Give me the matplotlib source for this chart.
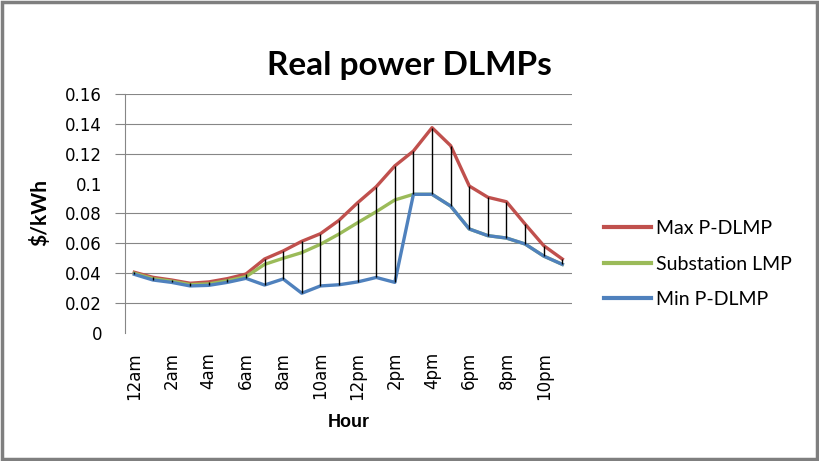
import numpy as np
import matplotlib
matplotlib.use("Agg")
import matplotlib.pyplot as plt
from matplotlib.patches import Rectangle

# values ($/kWh)
hours = ['12am', '1am', '2am', '3am', '4am', '5am', '6am', '7am', '8am', '9am', '10am', '11am',
         '12pm', '1pm', '2pm', '3pm', '4pm', '5pm', '6pm', '7pm', '8pm', '9pm', '10pm', '11pm']
max_dlmp = [0.0405, 0.0371, 0.0353, 0.0331, 0.0340, 0.0362, 0.0393, 0.0494, 0.0548, 0.0613,
            0.0664, 0.0754, 0.0872, 0.0980, 0.1120, 0.1220, 0.1377, 0.1256, 0.0985, 0.0909,
            0.0879, 0.0729, 0.0584, 0.0494]
sub_lmp = [0.0398, 0.0362, 0.0345, 0.0322, 0.0327, 0.0348, 0.0375, 0.0458, 0.0499, 0.0537,
           0.0593, 0.0662, 0.0738, 0.0812, 0.0891, 0.0929, 0.0929, 0.0850, 0.0696, 0.0651,
           0.0635, 0.0595, 0.0514, 0.0458]
min_dlmp = [0.0391, 0.0353, 0.0337, 0.0313, 0.0317, 0.0337, 0.0364, 0.0319, 0.0360, 0.0264,
            0.0313, 0.0321, 0.0340, 0.0370, 0.0337, 0.0929, 0.0929, 0.0850, 0.0696, 0.0651,
            0.0635, 0.0595, 0.0514, 0.0458]
series_names = ['Max P-DLMP', 'Substation LMP', 'Min P-DLMP']
y_ticks = [0, 0.02, 0.04, 0.06, 0.08, 0.1, 0.12, 0.14, 0.16]
y_ticklabels = ['0', '0.02', '0.04', '0.06', '0.08', '0.1', '0.12', '0.14', '0.16']

x = np.arange(len(hours))

fig = plt.figure(figsize=(8.19, 4.61), dpi=100)
ax = fig.add_axes([125 / 819, 1 - 332.5 / 461, 446.6 / 819, 238 / 461])

# high-low lines between max and min
ax.vlines(x, min_dlmp, max_dlmp, color='black', linewidth=1.0, zorder=5)

ax.plot(x, max_dlmp, color='#C0504D', linewidth=2.4, label=series_names[0], zorder=3)
ax.plot(x, sub_lmp, color='#9BBB59', linewidth=2.4, label=series_names[1], zorder=3)
ax.plot(x, min_dlmp, color='#4F81BD', linewidth=2.4, label=series_names[2], zorder=4)

ax.set_xlim(-0.5, len(hours) - 0.5)
ax.set_ylim(0, 0.16)

ax.set_yticks(y_ticks)
ax.set_yticklabels(y_ticklabels, fontsize=12, family='DejaVu Sans')
ax.tick_params(axis='y', length=7.5, width=0.8, color='#868686', pad=9)
ax.yaxis.grid(True, color='#868686', linewidth=0.8)
ax.set_axisbelow(True)
# the reference has no line at 0 and at 0.1
for i in (0, 5):
    ax.yaxis.get_gridlines()[i].set_visible(False)
    ax.yaxis.get_major_ticks()[i].tick1line.set_visible(False)

ax.set_xticks(x[::2])
ax.set_xticklabels(hours[::2], rotation=90, fontsize=12, family='DejaVu Sans')
ax.tick_params(axis='x', length=0, pad=14)

for s in ['top', 'right', 'bottom']:
    ax.spines[s].set_visible(False)
ax.spines['left'].set_color('#868686')
ax.spines['left'].set_linewidth(0.8)

ax.set_xlabel('Hour', fontsize=13, fontweight='bold', family='Liberation Sans', labelpad=10)
fig.text(40 / 819, 1 - 212 / 461, '$/kWh', rotation=90, ha='center', va='center',
         fontsize=15, fontweight='bold', family='Lato')
fig.text(409 / 819, 1 - 75 / 461, 'Real power DLMPs', ha='center', va='baseline',
         fontsize=24, fontweight='bold', family='Lato')

leg = ax.legend(loc='center left', bbox_to_anchor=(604 / 819, 1 - 264 / 461),
                bbox_transform=fig.transFigure, frameon=False, borderpad=0, borderaxespad=0,
                handlelength=2.4, handletextpad=0.25, labelspacing=0.95,
                prop={'family': 'Lato', 'size': 14})
for line in leg.get_lines():
    line.set_linewidth(3)

# chart area border
fig.patches.append(Rectangle((1.5 / 819, 2 / 461), 815 / 819, 457 / 461, transform=fig.transFigure,
                             fill=False, edgecolor='#7f7f7f', linewidth=2.5))

fig.savefig('out.png', dpi=100)
